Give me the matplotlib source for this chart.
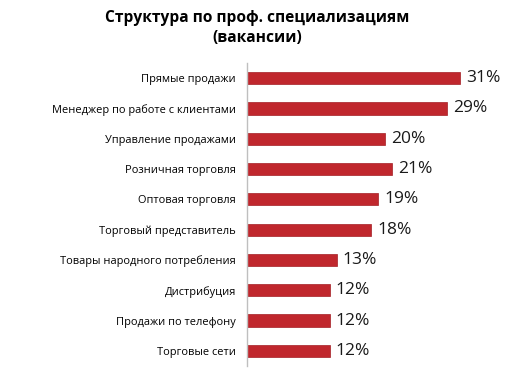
import matplotlib
matplotlib.use("Agg")
import matplotlib.pyplot as plt

categories = ["Прямые продажи", "Менеджер по работе с клиентами", "Управление продажами",
              "Розничная торговля", "Оптовая торговля", "Торговый представитель",
              "Товары народного потребления", "Дистрибуция", "Продажи по телефону",
              "Торговые сети"]
values = [31, 29, 20, 21, 19, 18, 13, 12, 12, 12]
labels = [f"{v}%" for v in values]

plt.rcParams["font.family"] = ["Open Sans", "DejaVu Sans"]

fig = plt.figure(figsize=(5.27, 3.84), dpi=100)
ax = fig.add_axes([247 / 527, 1 - 366 / 384, 241 / 527, 303 / 384])

y = list(range(len(categories)))
bars = ax.barh(y, values, height=0.4, color="#C0272D", edgecolor="#A31F24", linewidth=0.5)
for b, lab in zip(bars, labels):
    ax.text(b.get_width() + 0.9, b.get_y() + b.get_height() / 2, lab,
            va="center", ha="left", fontsize=12.5, color="#1a1a1a")

ax.set_xlim(0, 35)
ax.set_ylim(9.5, -0.5)
ax.set_yticks(y)
ax.set_yticklabels(categories, fontsize=7.9)
ax.tick_params(axis="y", length=0, pad=8)
ax.set_xticks([])
for s in ["top", "right", "bottom"]:
    ax.spines[s].set_visible(False)
ax.spines["left"].set_color("#BFBFBF")
ax.spines["left"].set_linewidth(1)

fig.text(257 / 527, 1 - 28 / 384, "Структура по проф. специализациям\n(вакансии)",
         ha="center", va="center", fontsize=11.2, fontweight="bold", linespacing=1.3)

fig.savefig("out.png", dpi=100)
